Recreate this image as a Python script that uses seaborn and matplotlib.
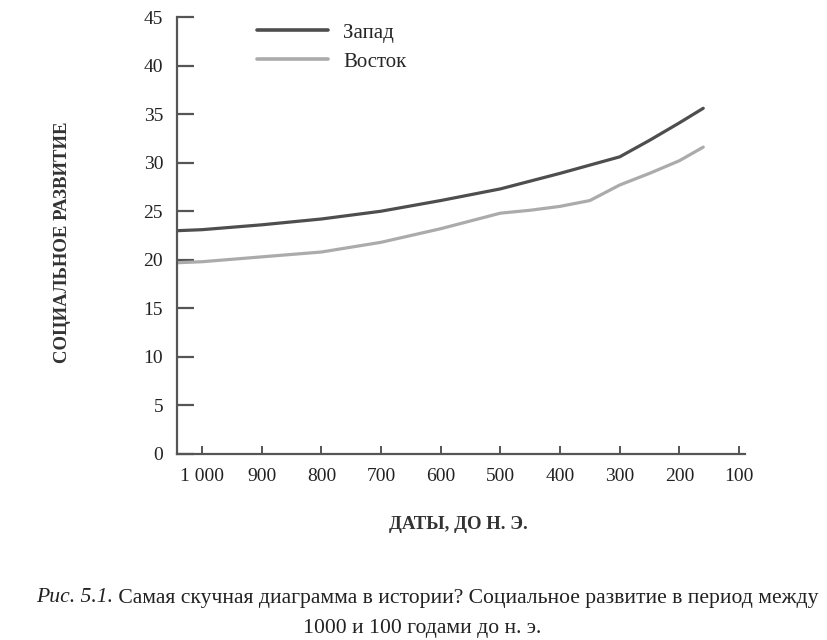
import matplotlib
matplotlib.use("Agg")
import matplotlib.pyplot as plt
import pandas as pd
import seaborn as sns

# values (years BC, social development index)
west_years = [1040, 1000, 900, 800, 700, 600, 500, 400, 300, 250, 200, 160]
west_values = [23.0, 23.1, 23.6, 24.2, 25.0, 26.1, 27.3, 28.9, 30.6, 32.3, 34.1, 35.6]
east_years = [1040, 1000, 900, 800, 700, 600, 500, 450, 400, 350, 300, 250, 200, 160]
east_values = [19.7, 19.8, 20.3, 20.8, 21.8, 23.2, 24.8, 25.1, 25.5, 26.1, 27.7, 28.9, 30.2, 31.6]
xticks = [1000, 900, 800, 700, 600, 500, 400, 300, 200, 100]
xtick_labels = ["1 000", "900", "800", "700", "600", "500", "400", "300", "200", "100"]
yticks = [0, 5, 10, 15, 20, 25, 30, 35, 40, 45]

df = pd.concat([
    pd.DataFrame({"year": west_years, "value": west_values, "region": "Запад"}),
    pd.DataFrame({"year": east_years, "value": east_values, "region": "Восток"}),
])

sns.set_theme(style="white")
plt.rcParams["font.family"] = ["Liberation Serif", "DejaVu Serif"]

fig = plt.figure(figsize=(8.28, 6.4), dpi=100)
ax = fig.add_axes([177 / 828, 1 - 454 / 640, 568 / 828, 437 / 640])

sns.lineplot(data=df, x="year", y="value", hue="region", sort=False,
             palette={"Запад": "#4e4e4e", "Восток": "#ababab"},
             linewidth=2.3, ax=ax)

ax.set_xlim(1042, 90)
ax.set_ylim(0, 45)
ax.set_xticks(xticks)
ax.set_xticklabels(xtick_labels)
ax.set_yticks(yticks)

for s in ["top", "right"]:
    ax.spines[s].set_visible(False)
for s in ["left", "bottom"]:
    ax.spines[s].set_color("#555555")
    ax.spines[s].set_linewidth(1.6)

ax.tick_params(axis="y", direction="in", length=12, width=1.6, color="#555555",
               labelsize=14, pad=10, labelcolor="#222222", left=True)
ax.tick_params(axis="x", direction="in", length=6, width=1.4, color="#555555",
               labelsize=14, pad=10, labelcolor="#222222", bottom=True)

ax.set_xlabel("ДАТЫ, ДО Н. Э.", fontsize=13.5, fontweight="bold", color="#333333")
ax.set_ylabel("СОЦИАЛЬНОЕ РАЗВИТИЕ", fontsize=13.5, fontweight="bold", color="#333333")
ax.xaxis.set_label_coords(0.495, -0.142)
ax.yaxis.set_label_coords(-0.186, 0.485)

leg = ax.legend(loc="upper left", bbox_to_anchor=(0.141, 0.986), frameon=False,
                fontsize=15, handlelength=3.4, handletextpad=0.72, labelspacing=0.45,
                borderpad=0, borderaxespad=0, title=None)
for line in leg.get_lines():
    line.set_linewidth(2.6)

# caption: italic figure number followed by plain text
cap_size = 15.6
cap_y1 = 1 - 598 / 640
t1 = fig.text(0, cap_y1, "Рис. 5.1.", fontsize=cap_size, style="italic", color="#222222", va="center")
t2 = fig.text(0, cap_y1, " Самая скучная диаграмма в истории? Социальное развитие в период между",
              fontsize=cap_size, color="#222222", va="center")
fig.canvas.draw()
r = fig.canvas.get_renderer()
w1 = t1.get_window_extent(r).width
w2 = t2.get_window_extent(r).width
x0 = (855 - (w1 + w2)) / 2
t1.set_x(x0 / 828)
t2.set_x((x0 + w1) / 828)
fig.text(0.51, 1 - 628 / 640, "1000 и 100 годами до н. э.", fontsize=cap_size,
         color="#222222", ha="center", va="center")

fig.savefig("out.png", dpi=100, facecolor="white")
